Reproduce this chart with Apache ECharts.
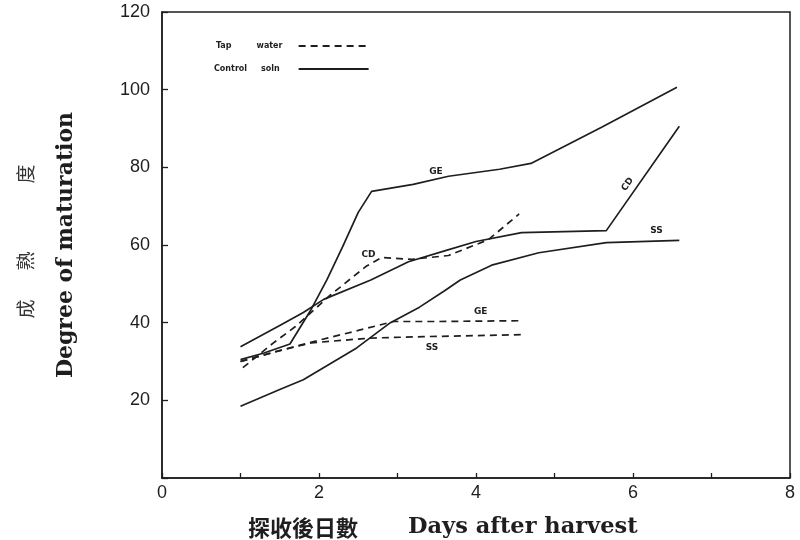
<!DOCTYPE html>
<html>
<head>
<meta charset="utf-8">
<script src="https://cdn.jsdelivr.net/npm/echarts@6/dist/echarts.min.js"></script>
<style>
html,body{margin:0;padding:0;background:#fff;}
#chart{width:800px;height:540px;}
</style>
</head>
<body>
<div id="chart"></div>
<script>
// ---- Data ----
const geControl = [[1,30.5],[1.3,32.2],[1.63,34.5],[1.9,43.4],[2.1,51],[2.3,59.5],[2.5,68.4],[2.67,73.8],[3.2,75.6],[3.65,77.7],[4.3,79.5],[4.7,81],[5.6,90.3],[6.56,100.6]];
const cdControl = [[1,33.8],[1.5,39.3],[1.8,42.6],[2.06,46],[2.66,51],[3.14,55.7],[3.6,58.5],[4.0,60.9],[4.58,63.2],[5.66,63.7],[6.59,90.6]];
const ssControl = [[1,18.5],[1.5,22.8],[1.8,25.3],[2.48,33.5],[2.91,40],[3.28,44],[3.6,48.2],[3.8,51],[4.2,54.8],[4.8,58],[5.66,60.6],[6.59,61.2]];
const geTap = [[1,30],[1.5,32.8],[2,35.5],[2.5,38],[2.95,40.3],[3.5,40.3],[4.57,40.5]];
const ssTap = [[1,30],[1.44,32.5],[1.9,34.8],[2.57,35.9],[2.76,36.1],[3.33,36.4],[4.57,36.9]];
const cdTap = [[1.03,28.4],[1.42,34.8],[1.7,39],[2.15,47.2],[2.6,54.5],[2.8,56.8],[3.18,56.3],[3.65,57.3],[4.16,61.4],[4.55,68]];
const curveLabels = [
  {name:'GE', value:[3.49,79], rotate:0},
  {name:'CD', value:[2.63,57.5], rotate:0},
  {name:'CD', value:[5.93,75.6], rotate:55},
  {name:'SS', value:[6.3,63.6], rotate:0},
  {name:'GE', value:[4.06,42.8], rotate:0},
  {name:'SS', value:[3.44,33.6], rotate:0}
];
const xTicks = [0,2,4,6,8];
const yTicks = [20,40,60,80,100,120];
const legendNames = ['Tap water','Control soln'];

const ink = '#1e1e1e';
const chart = echarts.init(document.getElementById('chart'));

function lineSeries(name, data, dashed){
  return {
    type:'line', name:name, data:data, symbol:'none', showSymbol:false, smooth:false,
    lineStyle:{color:ink, width:1.7, type: dashed ? [7,5] : 'solid'},
    itemStyle:{color:ink},
    silent:true, animation:false
  };
}

chart.setOption({
  animation:false,
  backgroundColor:'#fff',
  grid:{left:162, right:10, top:12, bottom:62, show:true, borderColor:ink, borderWidth:1.5, backgroundColor:'transparent'},
  xAxis:{
    type:'value', min:0, max:8, interval:1,
    axisLine:{show:true, lineStyle:{color:ink, width:1.5}},
    axisTick:{show:true, inside:true, length:5, lineStyle:{color:ink, width:1.3}},
    axisLabel:{color:ink, fontSize:18, fontFamily:'Liberation Sans', margin:6,
      formatter:v => xTicks.indexOf(v) >= 0 ? String(v) : ''},
    splitLine:{show:false}
  },
  yAxis:{
    type:'value', min:0, max:120, interval:20,
    axisLine:{show:true, lineStyle:{color:ink, width:1.5}},
    axisTick:{show:true, inside:true, length:6, lineStyle:{color:ink, width:1.3}},
    axisLabel:{color:ink, fontSize:18, fontFamily:'Liberation Sans', margin:12,
      formatter:v => yTicks.indexOf(v) >= 0 ? String(v) : ''},
    splitLine:{show:false}
  },
  legend:{
    data:legendNames, orient:'vertical', left:209, top:37, align:'right',
    itemWidth:70, itemHeight:8, itemGap:15, selectedMode:false,
    itemStyle:{opacity:0},
    formatter:n => n === 'Tap water' ? 'Tap         water    ' : 'Control     soln     ',
    textStyle:{fontSize:8, fontWeight:'bold', fontFamily:'DejaVu Sans', color:ink}
  },
  series:[
    lineSeries('Control soln', geControl, false),
    lineSeries('Control soln', cdControl, false),
    lineSeries('Control soln', ssControl, false),
    lineSeries('Tap water', geTap, true),
    lineSeries('Tap water', ssTap, true),
    lineSeries('Tap water', cdTap, true),
    {
      type:'scatter', name:'labels', symbolSize:1, silent:true,
      itemStyle:{color:'rgba(0,0,0,0)'},
      data:curveLabels.map(d => ({name:d.name, value:d.value,
        label:{rotate:d.rotate}})),
      label:{show:true, position:'inside', formatter:p => p.name,
        fontSize:9, fontWeight:'bold', fontFamily:'DejaVu Sans', color:ink, opacity:1}
    }
  ],
  graphic:[
    {type:'text', x:66, y:245, rotation:Math.PI/2,
      style:{text:'Degree of maturation', fontSize:22, fontWeight:'bold', fontFamily:'DejaVu Serif', fill:ink, align:'center', verticalAlign:'middle'}},
    {type:'text', x:26, y:309, rotation:Math.PI/2,
      style:{text:'成', fontSize:19, fontFamily:'Noto Sans CJK TC', fill:'#333', align:'center', verticalAlign:'middle'}},
    {type:'text', x:26, y:261, rotation:Math.PI/2,
      style:{text:'熟', fontSize:19, fontFamily:'Noto Sans CJK TC', fill:'#333', align:'center', verticalAlign:'middle'}},
    {type:'text', x:26, y:174, rotation:Math.PI/2,
      style:{text:'度', fontSize:19, fontFamily:'Noto Sans CJK TC', fill:'#333', align:'center', verticalAlign:'middle'}},
    {type:'text', x:303, y:528,
      style:{text:'探收後日數', fontSize:22, fontWeight:'bold', fontFamily:'Noto Sans CJK TC', fill:ink, align:'center', verticalAlign:'middle'}},
    {type:'text', x:408, y:527,
      style:{text:'Days after harvest', fontSize:22.5, fontWeight:'bold', fontFamily:'DejaVu Serif', fill:ink, align:'left', verticalAlign:'middle'}}
  ]
});
</script>
</body>
</html>
